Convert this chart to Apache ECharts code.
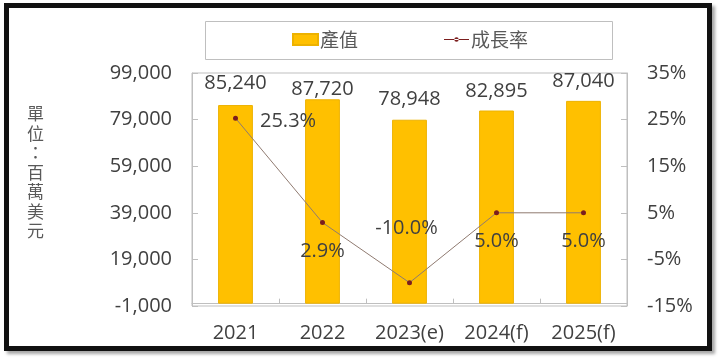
<!DOCTYPE html>
<html>
<head>
<meta charset="utf-8">
<script src="https://cdn.jsdelivr.net/npm/echarts@6/dist/echarts.min.js"></script>
<style>
  html, body { margin: 0; padding: 0; background: #ffffff; }
  #frame {
    position: absolute; left: 4px; top: 3px; width: 698px; height: 338px;
    border: 5px solid #111; background: #fff;
    box-shadow: 3px 3px 3px rgba(0,0,0,0.35);
  }
  #chart { position: absolute; left: 0; top: 0; width: 720px; height: 362px; }
</style>
</head>
<body>
<div id="frame"></div>
<div id="chart"></div>
<script>
// ---- data ----
const categories = ['2021', '2022', '2023(e)', '2024(f)', '2025(f)'];
const outputValues = [85240, 87720, 78948, 82895, 87040];   // 產值 (百萬美元)
const growthRates = [25.3, 2.9, -10.0, 5.0, 5.0];          // 成長率 (%)
const leftTicks = [-1000, 19000, 39000, 59000, 79000, 99000];
const rightTicks = [-15, -5, 5, 15, 25, 35];
const seriesNames = ['產值', '成長率'];
const axisUnit = '單位：百萬美元';

// ---- label placement (layout only) ----
const barLabelGap = [12, 0, 10, 9, 10];
const rateLabelPlace = [
  { position: 'right', distance: 22, offset: [0, 3] },
  { position: 'bottom', distance: 16, offset: [0, 0] },
  { position: 'top', distance: 42, offset: [-3, 0] },
  { position: 'bottom', distance: 16, offset: [0, 0] },
  { position: 'bottom', distance: 16, offset: [0, 0] }
];

const FONT = '"Open Sans", "Noto Sans CJK TC", sans-serif';
const CJK = '"Noto Sans CJK TC", sans-serif';
const TXT = '#404040';
const LINE_ICON = 'path://M0,5L25,5L25,6.2L0,6.2Z M10.3,5.6A2.2,2.2 0 1,0 14.7,5.6A2.2,2.2 0 1,0 10.3,5.6Z';

const chart = echarts.init(document.getElementById('chart'), null, { renderer: 'canvas' });

const fmtThousands = v => v.toLocaleString('en-US');

chart.setOption({
  backgroundColor: 'transparent',
  animation: false,
  textStyle: { fontFamily: FONT, color: TXT },
  grid: {
    left: 192, right: 93, top: 73, bottom: 56,
    show: true, borderColor: '#BFBFBF', borderWidth: 1, backgroundColor: 'transparent'
  },
  graphic: [
    {
      type: 'rect', left: 205, top: 21,
      shape: { width: 407, height: 38 },
      style: { fill: 'transparent', stroke: '#BFBFBF', lineWidth: 1 }
    },
    {
      type: 'text', left: 27, top: 104,
      style: {
        text: axisUnit.split('').join('\n'),
        font: '17px ' + CJK, fill: '#595959', lineHeight: 19.5, align: 'left'
      }
    }
  ],
  legend: {
    top: 25, left: 287,
    itemGap: 86,
    itemWidth: 25, itemHeight: 11,
    textStyle: { fontFamily: CJK, fontSize: 19, color: '#595959', padding: [0, 0, 0, -3] },
    data: [
      { name: seriesNames[0], icon: 'rect' },
      { name: seriesNames[1], icon: LINE_ICON }
    ]
  },
  xAxis: {
    type: 'category',
    data: categories,
    axisLine: { show: true, lineStyle: { color: '#BFBFBF' } },
    axisTick: { show: true, inside: true, length: 5, alignWithLabel: false, lineStyle: { color: '#BFBFBF' } },
    axisLabel: { interval: 0, hideOverlap: false, fontSize: 20, color: TXT, margin: 17, fontFamily: FONT }
  },
  yAxis: [
    {
      type: 'value', min: -1000, max: 99000,
      splitLine: { show: false },
      axisLine: { show: true, lineStyle: { color: '#BFBFBF' } },
      axisTick: { show: true, inside: true, length: 6, customValues: leftTicks, lineStyle: { color: '#BFBFBF' } },
      axisLabel: { fontSize: 20, color: TXT, margin: 20, fontFamily: FONT, customValues: leftTicks, formatter: v => fmtThousands(v) }
    },
    {
      type: 'value', min: -15, max: 35,
      splitLine: { show: false },
      axisLine: { show: true, lineStyle: { color: '#BFBFBF' } },
      axisTick: { show: true, inside: true, length: 6, customValues: rightTicks, lineStyle: { color: '#BFBFBF' } },
      axisLabel: { fontSize: 20, color: TXT, margin: 20, fontFamily: FONT, customValues: rightTicks, formatter: v => v + '%' }
    }
  ],
  series: [
    {
      name: seriesNames[0],
      type: 'bar',
      yAxisIndex: 0,
      barWidth: '40%',
      itemStyle: { color: '#FFC000', borderColor: '#EDB200', borderWidth: 1 },
      data: outputValues.map((v, i) => ({
        value: v,
        label: {
          show: true, position: 'top', distance: barLabelGap[i],
          fontSize: 20, color: TXT, fontFamily: FONT,
          formatter: p => fmtThousands(p.value)
        }
      }))
    },
    {
      name: seriesNames[1],
      type: 'line',
      yAxisIndex: 1,
      symbol: 'circle', symbolSize: 5,
      lineStyle: { color: '#8F7A70', width: 1 },
      itemStyle: { color: '#7B1E1E' },
      z: 5,
      data: growthRates.map((v, i) => ({
        value: v,
        label: Object.assign({
          show: true, fontSize: 20, color: TXT, fontFamily: FONT,
          formatter: p => p.value.toFixed(1) + '%'
        }, rateLabelPlace[i])
      }))
    }
  ]
});
</script>
</body>
</html>
